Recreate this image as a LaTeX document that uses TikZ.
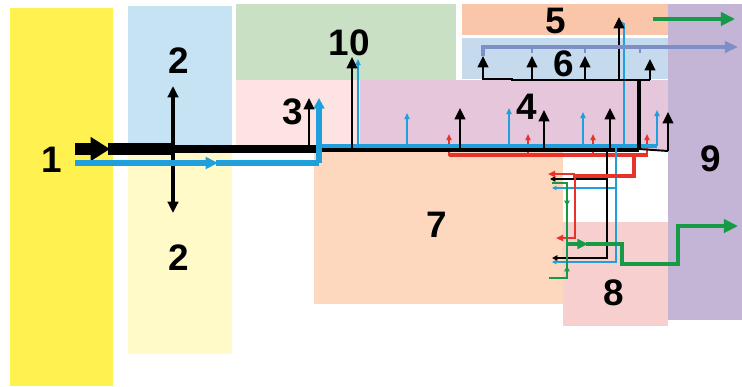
\documentclass[tikz,border=0pt]{standalone}
\usepackage{fontspec}
\setmainfont{Liberation Sans}
\usetikzlibrary{arrows.meta}

\definecolor{zoneyellow}{HTML}{FFF250}
\definecolor{zonesky}{HTML}{C6E3F3}
\definecolor{zonecream}{HTML}{FFFAC7}
\definecolor{zonegreen}{HTML}{C9E0C5}
\definecolor{zonerose}{HTML}{FDE4E3}
\definecolor{zonemauve}{HTML}{E5C6DB}
\definecolor{zonesalmon}{HTML}{F9C6AA}
\definecolor{zoneblue}{HTML}{C6DAEE}
\definecolor{zonepeach}{HTML}{FDD8BE}
\definecolor{zonepink}{HTML}{F8CFCF}
\definecolor{zonepurple}{HTML}{C4B4D6}
\definecolor{flowcyan}{HTML}{1FA0DC}
\definecolor{flowred}{HTML}{E8332B}
\definecolor{flowgreen}{HTML}{179A46}
\definecolor{flowviolet}{HTML}{7E8EC6}

\begin{document}
\begin{tikzpicture}[x=0.02cm,y=-0.02cm,
	num/.style={font=\fontsize{21}{24}\selectfont\bfseries},
	blk/.style={draw=black,line width=1.3pt,-{Triangle[length=6.5pt,width=6pt]}},
	cyn/.style={draw=flowcyan,line width=0.9pt,-{Triangle[length=3.5pt,width=3pt]}},
	rd/.style={draw=flowred,line width=0.9pt,-{Triangle[length=3.5pt,width=3pt]}}]
	\useasboundingbox (0,0) rectangle (742,386);

	% Zones
	\fill[zoneyellow] (10,8) rectangle (113,386);
	\fill[zonesky] (128,6) rectangle (232,150);
	\fill[zonecream] (128,150) rectangle (232,354);
	\fill[zonegreen] (236,4) rectangle (456,80);
	\fill[zonerose] (236,80) rectangle (360,150);
	\fill[zonemauve] (360,80) rectangle (668,150);
	\fill[zonesalmon] (462,4) rectangle (668,35);
	\fill[zoneblue] (462,38) rectangle (668,79);
	\fill[zonepeach] (314,150) rectangle (563,304);
	\fill[zonepink] (563,222) rectangle (668,326);
	\fill[zonepurple] (668,4) rectangle (742,320);

	% Zone numbers
	\node[num] (n1) at (52,160) {1};
	\node[num] (n2a) at (179,61) {2};
	\node[num] (n2b) at (179,258) {2};
	\node[num] (n10) at (349,43) {10};
	\node[num] (n3) at (293,112) {3};
	\node[num] (n4) at (527,107) {4};
	\node[num] (n5) at (556,21) {5};
	\node[num] (n6) at (564,64) {6};
	\node[num] (n7) at (437,225) {7};
	\node[num] (n8) at (614,293) {8};
	\node[num] (n9) at (711,159) {9};

	% Main points
	\coordinate (IN) at (75,149); % black inflow
	\coordinate (CIN) at (75,163); % cyan inflow
	\coordinate (CUP) at (319,163); % cyan turns up
	\coordinate (CEND) at (657,146); % end of cyan line
	\coordinate (BEND) at (639,149); % end of thick black line
	\coordinate (COMB) at (639,80); % black comb of zone 6

	% Red line
	\draw[flowred,line width=2.6pt] (449,155) -- (648,155);
	\foreach \x in {449,528,593,647}
		\draw[rd] (\x,156) -- (\x,134);

	% Black main line
	\draw[line width=6.4pt,-{Triangle[length=11pt,width=13pt]}] (IN) -- (110,149);
	\draw[line width=6.4pt] (108,149) -- (175,149);
	\draw[line width=4.8pt] (175,149) -- (320,149);
	\draw[line width=3pt] (320,149) -- (BEND);
	\draw[line width=1.1pt] (BEND) -- (668,151);
	\draw[blk] (668,151) -- (668,112);

	% Zone 2
	\draw[line width=1.9pt,-{Triangle[length=6.5pt,width=6pt]}] (173,149) -- (173,86);
	\draw[line width=1.9pt,-{Triangle[length=6.5pt,width=6pt]}] (173,149) -- (173,213);

	% Cyan line
	\draw[flowcyan,line width=3.6pt,-{Triangle[length=7pt,width=6.5pt]}] (CIN) -- (218,163);
	\draw[flowcyan,line width=3.6pt] (216,163) -- (CUP);
	\draw[flowcyan,line width=3pt,-{Triangle[length=6pt,width=6pt]}] (CUP) -- (319,98);
	\draw[flowcyan,line width=1.8pt] (319,146) -- (CEND);
	\draw[cyn] (358,146) -- (358,59);
	\foreach \x/\y in {407/113,509/108,583/112}
		\draw[cyn] (\x,146) -- (\x,\y);
	\draw[cyn] (CEND) -- (657,110);
	\draw[flowcyan,line width=1pt] (624,146) -- (624,24) -- (621,22);

	% Black arrows into zones 3, 10, 4
	\draw[blk] (309,149) -- (309,98);
	\draw[blk] (352,149) -- (352,57);
	\foreach \x/\y in {460/108,544/110,610/108}
		\draw[blk] (\x,149) -- (\x,\y);

	% Zone 6 comb and zone 5
	\draw[line width=2.4pt] (BEND) -- (COMB);
	\draw[line width=1.2pt] (483,79) -- (512,79) -- (512,80) -- (650,80);
	\foreach \x in {483,532,585}
		\draw[blk] (\x,80) -- (\x,56);
	\draw[blk] (650,80) -- (650,59);
	\draw[blk] (619,80) -- (619,17);
	\draw[flowviolet,line width=1.8pt,-{Triangle[length=7.5pt,width=6.5pt]}] (483,56) -- (483,47) -- (738,47);
	\foreach \x in {532,585,640}
		\draw[flowviolet,line width=1pt] (\x,47) -- (\x,53);
	\draw[flowgreen,line width=2.8pt,-{Triangle[length=8pt,width=7.5pt]}] (653,19) -- (735,19);

	% Branches down to zones 7 and 8
	\draw[flowcyan,line width=0.9pt,-{Triangle[length=2.5pt,width=2.5pt]}] (616,146) -- (616,262) -- (552,262);
	\draw[flowcyan,line width=0.9pt,-{Triangle[length=2.5pt,width=2.5pt]}] (616,188) -- (552,188);
	\draw[line width=1.5pt,-{Triangle[length=3pt,width=3pt]}] (607,149) -- (607,258) -- (552,258);
	\draw[line width=1.5pt,-{Triangle[length=3pt,width=3pt]}] (607,179) -- (550,179);
	\draw[flowred,line width=2.8pt] (634,155) -- (634,176) -- (573,176);
	\draw[flowred,line width=1.6pt,-{Triangle[length=4pt,width=3.5pt]}] (575,176) -- (575,238) -- (556,238);
	\draw[flowred,line width=1.6pt,-{Triangle[length=4pt,width=3.5pt]}] (575,174) -- (548,174);

	% Green outflow through zone 8
	\draw[flowgreen,line width=1pt,-{Triangle[length=3pt,width=3pt]}] (552,183) -- (567,183) -- (567,206);
	\draw[flowgreen,line width=1pt] (567,204) -- (567,244);
	\draw[flowgreen,line width=1pt,-{Triangle[length=3pt,width=3pt]}] (549,278) -- (567,278) -- (567,266);
	\draw[flowgreen,line width=1pt] (567,268) -- (567,244);
	\draw[flowgreen,line width=2.4pt,-{Triangle[length=6pt,width=5.5pt]}] (567,244) -- (588,244);
	\draw[flowgreen,line width=2.4pt,-{Triangle[length=8pt,width=7.5pt]}] (586,244) -- (622,244) -- (622,264) -- (678,264) -- (678,226) -- (738,226);
\end{tikzpicture}
\end{document}
